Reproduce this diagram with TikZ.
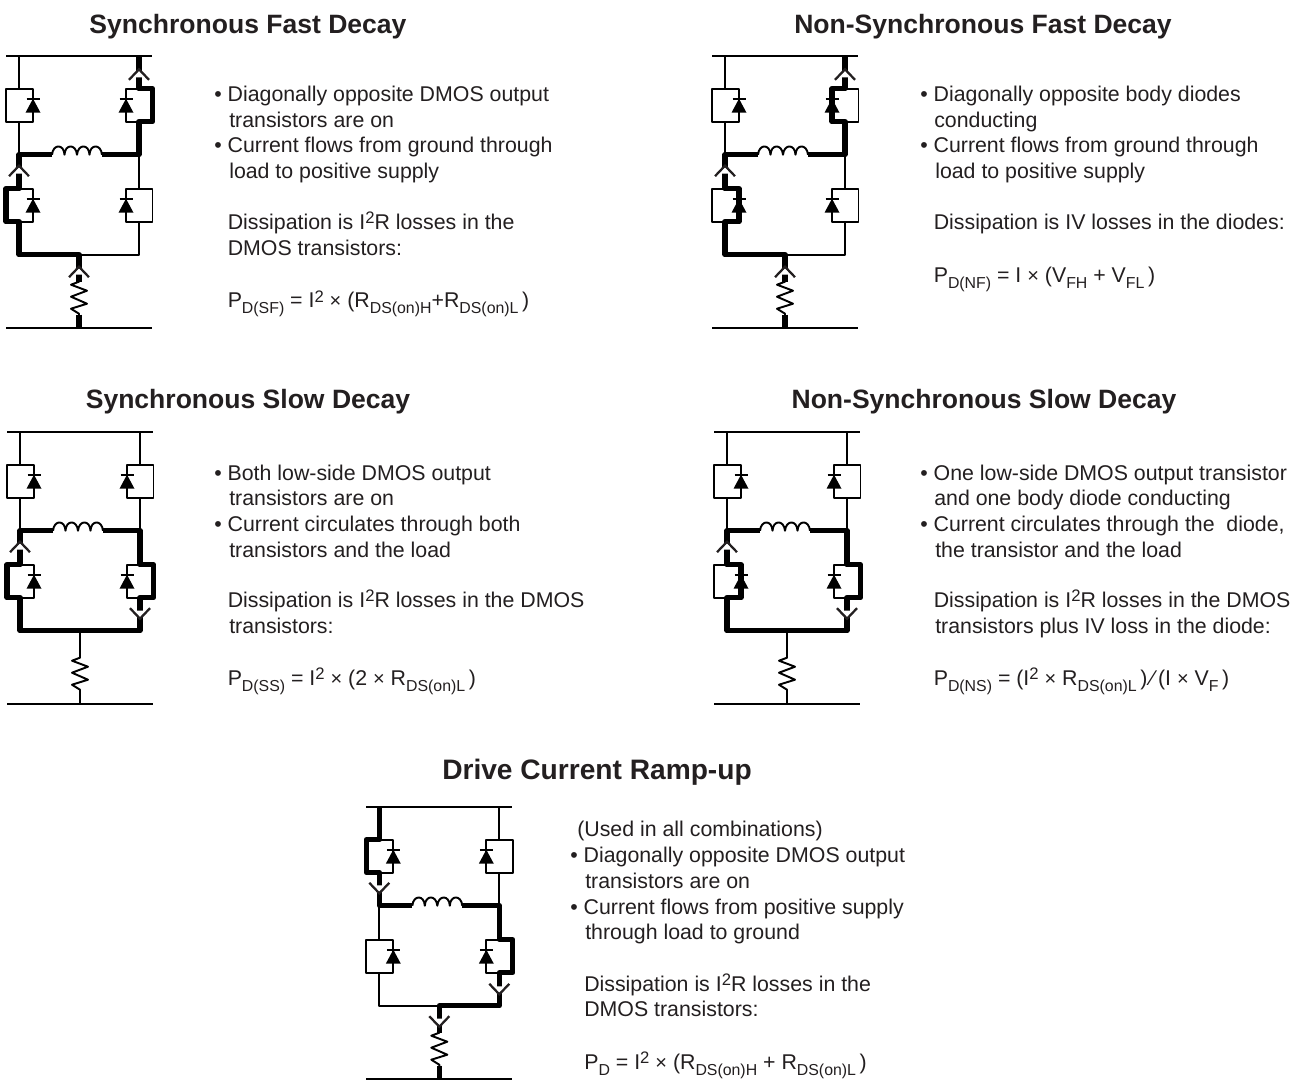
\documentclass[tikz,border=0pt]{standalone}
\usepackage{fontspec}
\setmainfont{Liberation Sans}
\usepackage{tikz}
\usetikzlibrary{positioning}
\definecolor{inkdark}{HTML}{231F20}
\tikzset{
  thinwire/.style={draw=black, line width=1.45pt, line join=round},
  thickwire/.style={draw=black, line width=3.9pt, line join=round},
  headtext/.style={inkdark, anchor=base, inner sep=0pt, font=\fontsize{19.9}{19.9}\selectfont\bfseries},
  bodytext/.style={inkdark, anchor=base west, inner sep=0pt, font=\fontsize{16}{16}\selectfont}
}
\newcommand{\subtxt}[1]{\raisebox{-0.3em}{\fontsize{11.9}{11.9}\selectfont #1}}
\newcommand{\suptxt}[1]{\raisebox{0.24em}{\fontsize{12.5}{12.5}\selectfont #1}}
\newcommand{\timestxt}{{\fontsize{15}{15}\selectfont ×}}
% one flyback diode, bar on top
\newcommand{\diodemark}[2]{
  \fill[black] (#1-7.5,#2+14) -- (#1+7.5,#2+14) -- (#1,#2) -- cycle;
  \draw[thinwire] (#1-6.5,#2) -- (#1+6.5,#2);
}
% current marker: #1 x, #2 y of the tip, #3 is 1 for up and -1 for down
\newcommand{\flowmark}[3]{
  \fill[white] (#1,#2+#3*1.5) -- (#1+7,#2+#3*8) -- (#1-7,#2+#3*8) -- cycle;
  \draw[inkdark, line width=1.7pt] (#1-10,#2+#3*10.5) -- (#1,#2) -- (#1+10,#2+#3*10.5);
}
\newcommand{\bridgebase}{
  \draw[thinwire] (-13,0) -- (133,0);
  \draw[thinwire] (-13,272) -- (133,272);
  \draw[thinwire] (0,0) -- (0,33);
  \draw[thinwire] (0,66) -- (0,133);
  \draw[thinwire] (120,0) -- (120,33);
  \draw[thinwire] (120,66) -- (120,133);
  \draw[thinwire] (0,166) -- (0,199) -- (120,199) -- (120,166);
  \draw[thinwire] (-13,33) rectangle (14,66);
  \draw[thinwire] (107,33) rectangle (133.5,66);
  \draw[thinwire] (-13,133) rectangle (14,166);
  \draw[thinwire] (107,133) rectangle (133.5,166);
  \diodemark{14}{43}
  \diodemark{107}{43}
  \diodemark{14}{143}
  \diodemark{107}{143}
  \fill[white] (33,93) rectangle (83,102);
  \draw[thinwire] (33,99) .. controls (34,88) and (45,88) .. (45.5,99)
    .. controls (46,88) and (57,88) .. (58,99)
    .. controls (59,88) and (70,88) .. (70.5,99)
    .. controls (71,88) and (82,88) .. (83,99);
  \draw[thinwire] (60,199) -- (60,226) -- (52,229) -- (68,235) -- (52,241) -- (68,248) -- (52,253) -- (60,258) -- (60,272);
}
\begin{document}
\begin{tikzpicture}[x=0.75pt, y=-0.75pt]
  \useasboundingbox (0,0) rectangle (1302,1079);
  \fill[white] (0,0) rectangle (1302,1079);

  % Synchronous fast decay
  \node[headtext] (sfhead) at (248,33) {Synchronous Fast Decay};
  \begin{scope}[shift={(19,55.7)}]
    \bridgebase
    \draw[thickwire] (120,0) -- (120,33) -- (133.5,33) -- (133.5,66) -- (120,66) -- (120,99) -- (83,99);
    \draw[thickwire] (33,99) -- (0,99) -- (0,133) -- (-13,133) -- (-13,166) -- (0,166) -- (0,199) -- (60,199) -- (60,226);
    \draw[thickwire] (60,259) -- (60,272);
    \flowmark{120}{13.6}{1}
    \flowmark{0}{110}{1}
    \flowmark{60}{211}{1}
  \end{scope}
  \node[bodytext] (sfa) at (214,101) {• Diagonally opposite DMOS output};
  \node[bodytext] (sfb) at (229,127) {transistors are on};
  \node[bodytext] (sfc) at (214,152) {• Current flows from ground through};
  \node[bodytext] (sfd) at (229,178) {load to positive supply};
  \node[bodytext] (sfe) at (227.5,229) {Dissipation is I\suptxt{2}R losses in the};
  \node[bodytext] (sff) at (227.5,255) {DMOS transistors:};
  \node[bodytext] (sfg) at (227.5,307.5) {P\subtxt{D(SF)} = I\suptxt{2} \timestxt{} (R\subtxt{DS(on)H}+R\subtxt{DS(on)L}\,)};

  % Non-synchronous fast decay
  \node[headtext] (nfhead) at (983,33) {Non-Synchronous Fast Decay};
  \begin{scope}[shift={(725,55.7)}]
    \bridgebase
    \draw[thickwire] (120,0) -- (120,33) -- (107,33) -- (107,66) -- (120,66) -- (120,99) -- (83,99);
    \draw[thickwire] (33,99) -- (0,99) -- (0,133) -- (14,133) -- (14,166) -- (0,166) -- (0,199) -- (60,199) -- (60,226);
    \draw[thickwire] (60,259) -- (60,272);
    \flowmark{120}{13.6}{1}
    \flowmark{0}{110}{1}
    \flowmark{60}{211}{1}
  \end{scope}
  \node[bodytext] (nfa) at (920,101) {• Diagonally opposite body diodes};
  \node[bodytext] (nfb) at (934,127) {conducting};
  \node[bodytext] (nfc) at (920,152) {• Current flows from ground through};
  \node[bodytext] (nfd) at (935,178) {load to positive supply};
  \node[bodytext] (nfe) at (933.5,229) {Dissipation is IV losses in the diodes:};
  \node[bodytext] (nfg) at (933.5,282) {P\subtxt{D(NF)} = I \timestxt{} (V\subtxt{FH} + V\subtxt{FL}\,)};

  % Synchronous slow decay
  \node[headtext] (sshead) at (248,408) {Synchronous Slow Decay};
  \begin{scope}[shift={(20,431.7)}]
    \bridgebase
    \draw[thickwire] (33,99) -- (0,99) -- (0,133) -- (-13,133) -- (-13,166) -- (0,166) -- (0,199) -- (120,199) -- (120,166) -- (133.5,166) -- (133.5,133) -- (120,133) -- (120,99) -- (83,99);
    \flowmark{0}{110}{1}
    \flowmark{120}{187}{-1}
  \end{scope}
  \node[bodytext] (ssa) at (214,480) {• Both low-side DMOS output};
  \node[bodytext] (ssb) at (229,505) {transistors are on};
  \node[bodytext] (ssc) at (214,531) {• Current circulates through both};
  \node[bodytext] (ssd) at (229,557) {transistors and the load};
  \node[bodytext] (sse) at (227.5,607) {Dissipation is I\suptxt{2}R losses in the DMOS};
  \node[bodytext] (ssf) at (229,633) {transistors:};
  \node[bodytext] (ssg) at (227.5,685) {P\subtxt{D(SS)} = I\suptxt{2} \timestxt{} (2 \timestxt{} R\subtxt{DS(on)L}\,)};

  % Non-synchronous slow decay
  \node[headtext] (nshead) at (984,408) {Non-Synchronous Slow Decay};
  \begin{scope}[shift={(727,431.7)}]
    \bridgebase
    \draw[thickwire] (33,99) -- (0,99) -- (0,133) -- (14,133) -- (14,166) -- (0,166) -- (0,199) -- (120,199) -- (120,166) -- (133.5,166) -- (133.5,133) -- (120,133) -- (120,99) -- (83,99);
    \flowmark{0}{110}{1}
    \flowmark{120}{187}{-1}
  \end{scope}
  \node[bodytext] (nsa) at (920,480) {• One low-side DMOS output transistor};
  \node[bodytext] (nsb) at (934,505) {and one body diode conducting};
  \node[bodytext] (nsc) at (920,531) {• Current circulates through the\ \ diode,};
  \node[bodytext] (nsd) at (935,557) {the transistor and the load};
  \node[bodytext] (nse) at (933.5,607) {Dissipation is I\suptxt{2}R losses in the DMOS};
  \node[bodytext] (nsf) at (935,633) {transistors plus IV loss in the diode:};
  \node[bodytext] (nsg) at (933.5,685) {P\subtxt{D(NS)} = (I\suptxt{2} \timestxt{} R\subtxt{DS(on)L}\,)\,∕\,(I \timestxt{} V\subtxt{F}\,)};

  % Drive current ramp-up
  \node[headtext, font=\fontsize{21.1}{21.1}\selectfont\bfseries] (drhead) at (597,779) {Drive Current Ramp-up};
  \begin{scope}[shift={(379.3,806.7)}]
    \bridgebase
    \draw[thickwire] (0,0) -- (0,33) -- (-13,33) -- (-13,66) -- (0,66) -- (0,99) -- (33,99);
    \draw[thickwire] (83,99) -- (120,99) -- (120,133) -- (133.5,133) -- (133.5,166) -- (120,166) -- (120,199) -- (60,199) -- (60,226);
    \draw[thickwire] (60,259) -- (60,272);
    \flowmark{0}{86.6}{-1}
    \flowmark{120}{187.6}{-1}
    \flowmark{60}{220}{-1}
  \end{scope}
  \node[bodytext] (dra) at (577,836) {(Used in all combinations)};
  \node[bodytext] (drb) at (570,862) {• Diagonally opposite DMOS output};
  \node[bodytext] (drc) at (585,888) {transistors are on};
  \node[bodytext] (drd) at (570,914) {• Current flows from positive supply};
  \node[bodytext] (dre) at (585,939) {through load to ground};
  \node[bodytext] (drf) at (584,991) {Dissipation is I\suptxt{2}R losses in the};
  \node[bodytext] (drg) at (584,1016) {DMOS transistors:};
  \node[bodytext] (drh) at (584,1069) {P\subtxt{D} = I\suptxt{2} \timestxt{} (R\subtxt{DS(on)H} + R\subtxt{DS(on)L}\,)};
\end{tikzpicture}
\end{document}
